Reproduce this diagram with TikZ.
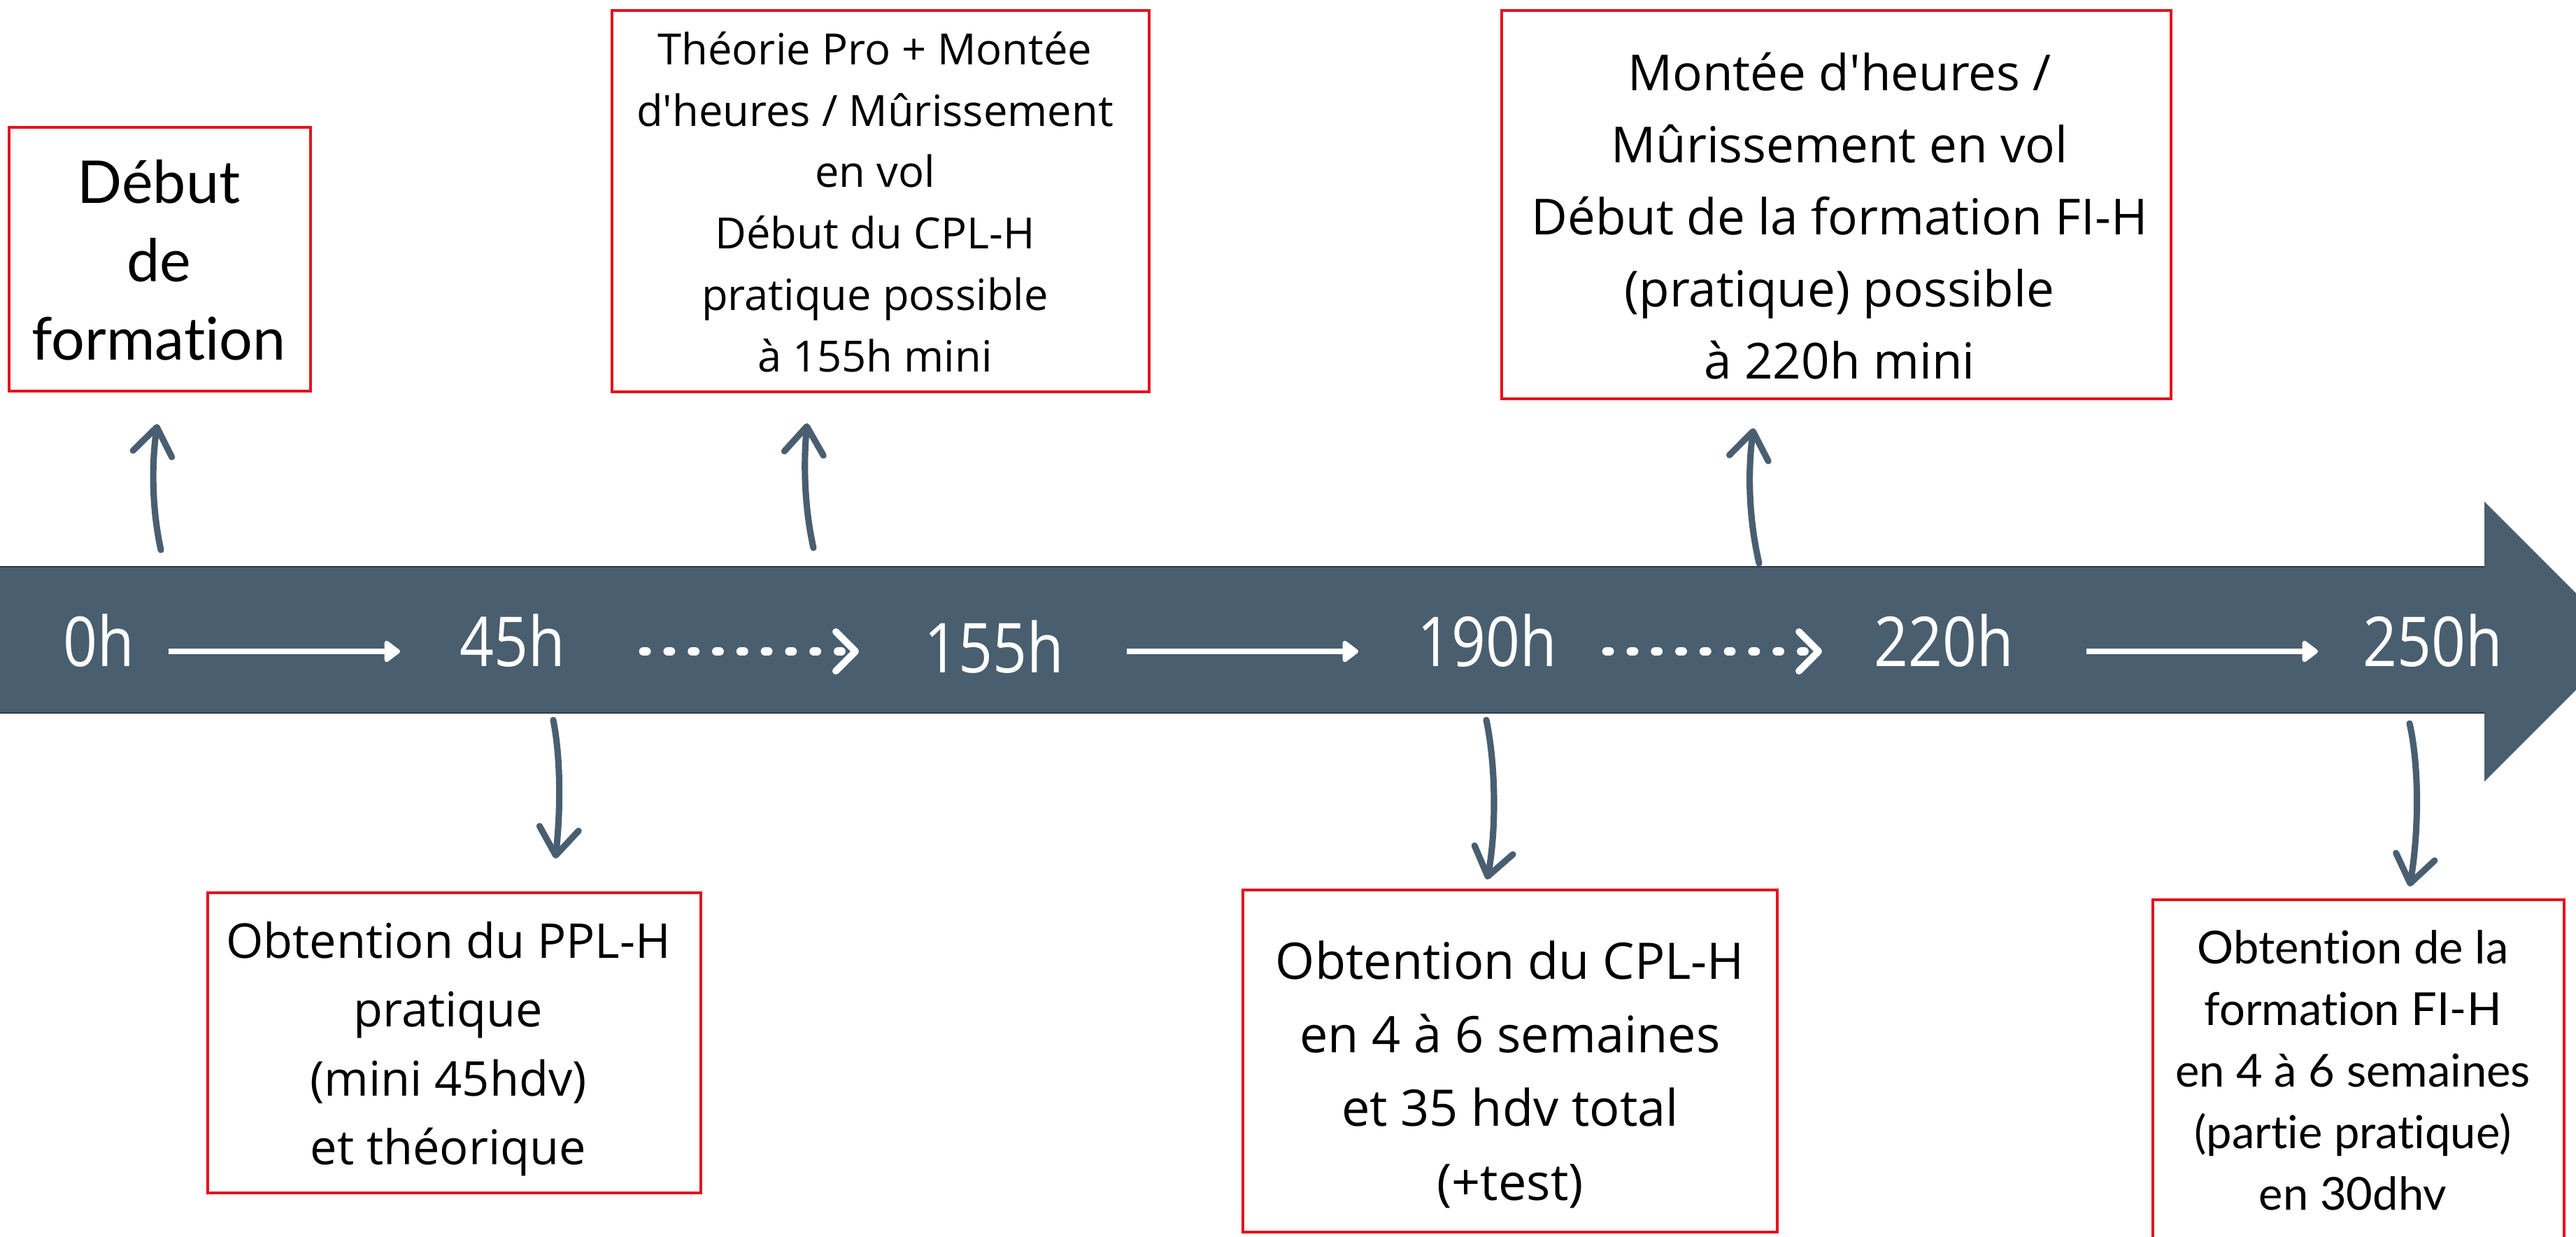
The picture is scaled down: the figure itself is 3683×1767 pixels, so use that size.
\documentclass[tikz,border=0pt]{standalone}
\usepackage{fontspec}
\setmainfont{Open Sans}[Ligatures=TeXOff]
\newfontfamily\latofont{Lato}[Ligatures={TeXOff,NoCommon}]
\usetikzlibrary{arrows.meta,bending,fit}
\definecolor{barblue}{HTML}{495E6E}
\definecolor{baredge}{HTML}{2E3A44}
\definecolor{arrowblue}{HTML}{495F71}
\definecolor{boxred}{HTML}{E3141E}
\newcommand{\firststrut}{\rule{0pt}{1em}}
\begin{document}
\begin{tikzpicture}[x=0.1mm,y=-0.1mm,
  redbox/.style={draw=boxred, line width=1.1pt, inner sep=0pt},
  boxtext/.style={align=center, inner sep=0pt, anchor=north, text=black},
  hlabel/.style={text=white, inner sep=0pt, anchor=base, font=\fontsize{28}{34}\selectfont},
  wsolid/.style={draw=white, line width=2.3pt, -{Triangle[length=7pt,width=10pt,round]}},
  wdots/.style={draw=white, line width=3.6pt, line cap=round, dash pattern=on 1.2pt off 8.7pt, -{Straight Barb[length=8pt,width=16pt,line width=2.8pt,round]}},
  curly/.style={draw=arrowblue, line width=2.6pt, line cap=round, -{Straight Barb[length=11pt,width=16pt,round]}},
]
\useasboundingbox (0,0) rectangle (3683,1767);
\fill[white] (0,0) rectangle (3683,1767);

% timeline bar
\fill[barblue] (0,810) -- (3552,810) -- (3552,717) -- (3752,917) -- (3552,1117) -- (3552,1019) -- (0,1019) -- cycle;
\draw[baredge, line width=0.8pt] (0,810) -- (3552,810);
\draw[baredge, line width=0.8pt] (0,1019) -- (3552,1019);

% hour labels
\node[hlabel] (h0)   at (141,952)  {\scalebox{0.87}[1]{0h}};
\node[hlabel] (h45)  at (733,952)  {\scalebox{0.87}[1]{45h}};
\node[hlabel] (h155) at (1421,961) {\scalebox{0.87}[1]{155h}};
\node[hlabel] (h190) at (2126,952) {\scalebox{0.87}[1]{190h}};
\node[hlabel] (h220) at (2779,952) {\scalebox{0.87}[1]{220h}};
\node[hlabel] (h250) at (3478,952) {\scalebox{0.87}[1]{250h}};

% arrows inside the bar
\coordinate (s1) at (241,931);  \coordinate (e1) at (572,931);
\coordinate (s2) at (920,931);  \coordinate (e2) at (1228,931);
\coordinate (s3) at (1611,931); \coordinate (e3) at (1942,931);
\coordinate (s4) at (2297,931); \coordinate (e4) at (2605,931);
\coordinate (s5) at (2983,931); \coordinate (e5) at (3314,931);
\draw[wsolid] (s1) -- (e1);
\draw[wdots]  (s2) -- (e2);
\draw[wsolid] (s3) -- (e3);
\draw[wdots]  (s4) -- (e4);
\draw[wsolid] (s5) -- (e5);

% boxes
\node[redbox, fit={(13,182) (444,559)}] (b1) {};
\node[redbox, fit={(875,15) (1643,560)}] (b2) {};
\node[redbox, fit={(2147,15) (3104,570)}] (b3) {};
\node[redbox, fit={(297,1276) (1002,1705)}] (b4) {};
\node[redbox, fit={(1777,1272) (2541,1761)}] (b5) {};
\node[redbox, fit={(3078,1286) (3666,1820)}] (b6) {};

% box texts
\node[boxtext, font=\latofont\fontsize{24}{31.9}\selectfont] (t1) at (227,205)
  {\firststrut Début\\de\\formation};
\node[boxtext, font=\fontsize{17.5}{25}\selectfont] (t2) at (1251,30)
  {\firststrut Théorie Pro + Montée\\d'heures / Mûrissement\\en vol\\Début du CPL-H\\pratique possible\\à 155h mini};
\node[boxtext, font=\fontsize{20.2}{29.3}\selectfont] (t3) at (2630,58)
  {\firststrut Montée d'heures /\\Mûrissement en vol\\Début de la formation FI-H\\(pratique) possible\\à 220h mini};
\node[boxtext, font=\fontsize{19.5}{28}\selectfont] (t4) at (641,1300)
  {\firststrut Obtention du PPL-H\\pratique\\(mini 45hdv)\\et théorique};
\node[boxtext, font=\fontsize{20.5}{29.9}\selectfont] (t5) at (2159,1327)
  {\firststrut Obtention du CPL-H\\en 4 à 6 semaines\\et 35 hdv total\\(+test)};
\node[boxtext, font=\latofont\fontsize{18.5}{25}\selectfont] (t6) at (3364,1312)
  {\firststrut Obtention de la\\formation FI-H\\en 4 à 6 semaines\\(partie pratique)\\en 30dhv};

% hand-drawn arrows
\coordinate (a1s) at (230,786);  \coordinate (a1e) at (225,606);
\coordinate (a2s) at (1163,783); \coordinate (a2e) at (1154,605);
\coordinate (a3s) at (2515,805); \coordinate (a3e) at (2507,612);
\coordinate (d1s) at (791,1029);  \coordinate (d1e) at (794,1227);
\coordinate (d2s) at (2125,1029); \coordinate (d2e) at (2126,1257);
\coordinate (d3s) at (3445,1034); \coordinate (d3e) at (3445,1267);
\draw[curly] (a1s) .. controls (217,726) and (216,660) .. (a1e);
\draw[curly] (a2s) .. controls (1150,725) and (1148,660) .. (a2e);
\draw[curly] (a3s) .. controls (2500,740) and (2498,670) .. (a3e);
\draw[curly] (d1s) .. controls (803,1090) and (801,1170) .. (d1e);
\draw[curly] (d2s) .. controls (2140,1100) and (2139,1200) .. (d2e);
\draw[curly] (d3s) .. controls (3460,1100) and (3458,1200) .. (d3e);
\end{tikzpicture}
\end{document}
